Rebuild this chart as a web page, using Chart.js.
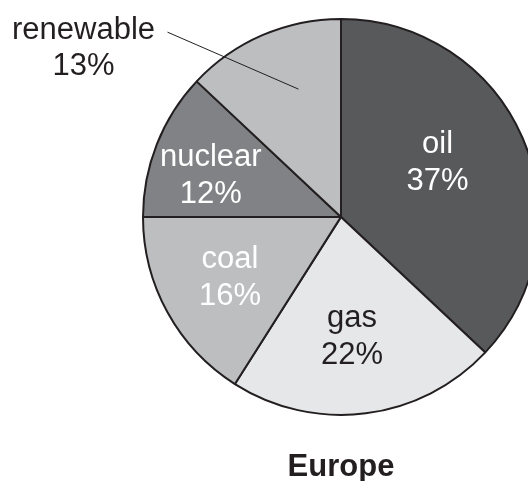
<!DOCTYPE html>
<html>
<head>
<meta charset="utf-8">
<script src="https://cdn.jsdelivr.net/npm/chart.js@4"></script>
<style>
  html, body { margin: 0; padding: 0; background: #fff; }
  #wrap { width: 528px; height: 481px; overflow: hidden; position: relative; }
  #europe { position: absolute; left: 0; top: 0; }
</style>
</head>
<body>
<div id="wrap"><canvas id="europe" width="682" height="481"></canvas></div>
<script>
// energy mix, clockwise from 12 o'clock
const sources = ["oil", "gas", "coal", "nuclear", "renewable"];
const shares = [37, 22, 16, 12, 13];
const fills = ["#58595b", "#e6e7e8", "#bcbec0", "#808285", "#bcbec0"];
const labelColors = ["#ffffff", "#231f20", "#ffffff", "#ffffff", "#231f20"];
// where the label sits inside each slice: fraction of radius, angle nudge (deg)
const labelRadius = [0.56, 0.61, 0.64, 0.69, 0.68];
const labelNudge = [-6, 2, 0, -4, 5];

const ink = "#231f20";
const fontFamily = "'Liberation Sans', Arial, Helvetica, sans-serif";

// point on the pie at angle measured clockwise from the top
function polar(arc, deg, frac) {
  const a = (deg - 90) * Math.PI / 180;
  return { x: arc.x + Math.cos(a) * arc.outerRadius * frac, y: arc.y + Math.sin(a) * arc.outerRadius * frac };
}

const sliceLabels = {
  id: "sliceLabels",
  afterDatasetsDraw(chart) {
    const ctx = chart.ctx;
    const arcs = chart.getDatasetMeta(0).data;
    ctx.save();
    ctx.font = "31px " + fontFamily;
    ctx.textAlign = "center";
    ctx.textBaseline = "middle";
    arcs.forEach(function(arc, i) {
      const midDeg = ((arc.startAngle + arc.endAngle) / 2) * 180 / Math.PI + 90;
      const p = polar(arc, midDeg + labelNudge[i], labelRadius[i]);
      const lines = [sources[i], shares[i] + "%"];
      if (sources[i] === "renewable") {
        // leader line out to a label beyond the pie
        const far = polar(arc, 316.8, 1.28);
        ctx.strokeStyle = ink;
        ctx.lineWidth = 1;
        ctx.beginPath();
        ctx.moveTo(p.x, p.y);
        ctx.lineTo(far.x, far.y);
        ctx.stroke();
        ctx.fillStyle = labelColors[i];
        ctx.fillText(lines[0], far.x - 84, far.y - 2);
        ctx.fillText(lines[1], far.x - 84, far.y + 34);
        return;
      }
      ctx.fillStyle = labelColors[i];
      ctx.fillText(lines[0], p.x, p.y - 18.5);
      ctx.fillText(lines[1], p.x, p.y + 18.5);
    });
    ctx.restore();
  }
};

new Chart(document.getElementById("europe").getContext("2d"), {
  type: "pie",
  data: {
    labels: sources,
    datasets: [{
      data: shares,
      backgroundColor: fills,
      borderColor: ink,
      borderWidth: 2,
      radius: 198
    }]
  },
  options: {
    responsive: false,
    animation: false,
    layout: { padding: { top: 24, bottom: 0, left: 0, right: 0 } },
    plugins: {
      legend: { display: false },
      tooltip: { enabled: false },
      title: {
        display: true,
        position: "bottom",
        text: "Europe",
        color: ink,
        font: { family: fontFamily, size: 31, weight: "bold", lineHeight: 1.2 },
        padding: { top: 39, bottom: -5 }
      }
    }
  },
  plugins: [sliceLabels]
});
</script>
</body>
</html>
